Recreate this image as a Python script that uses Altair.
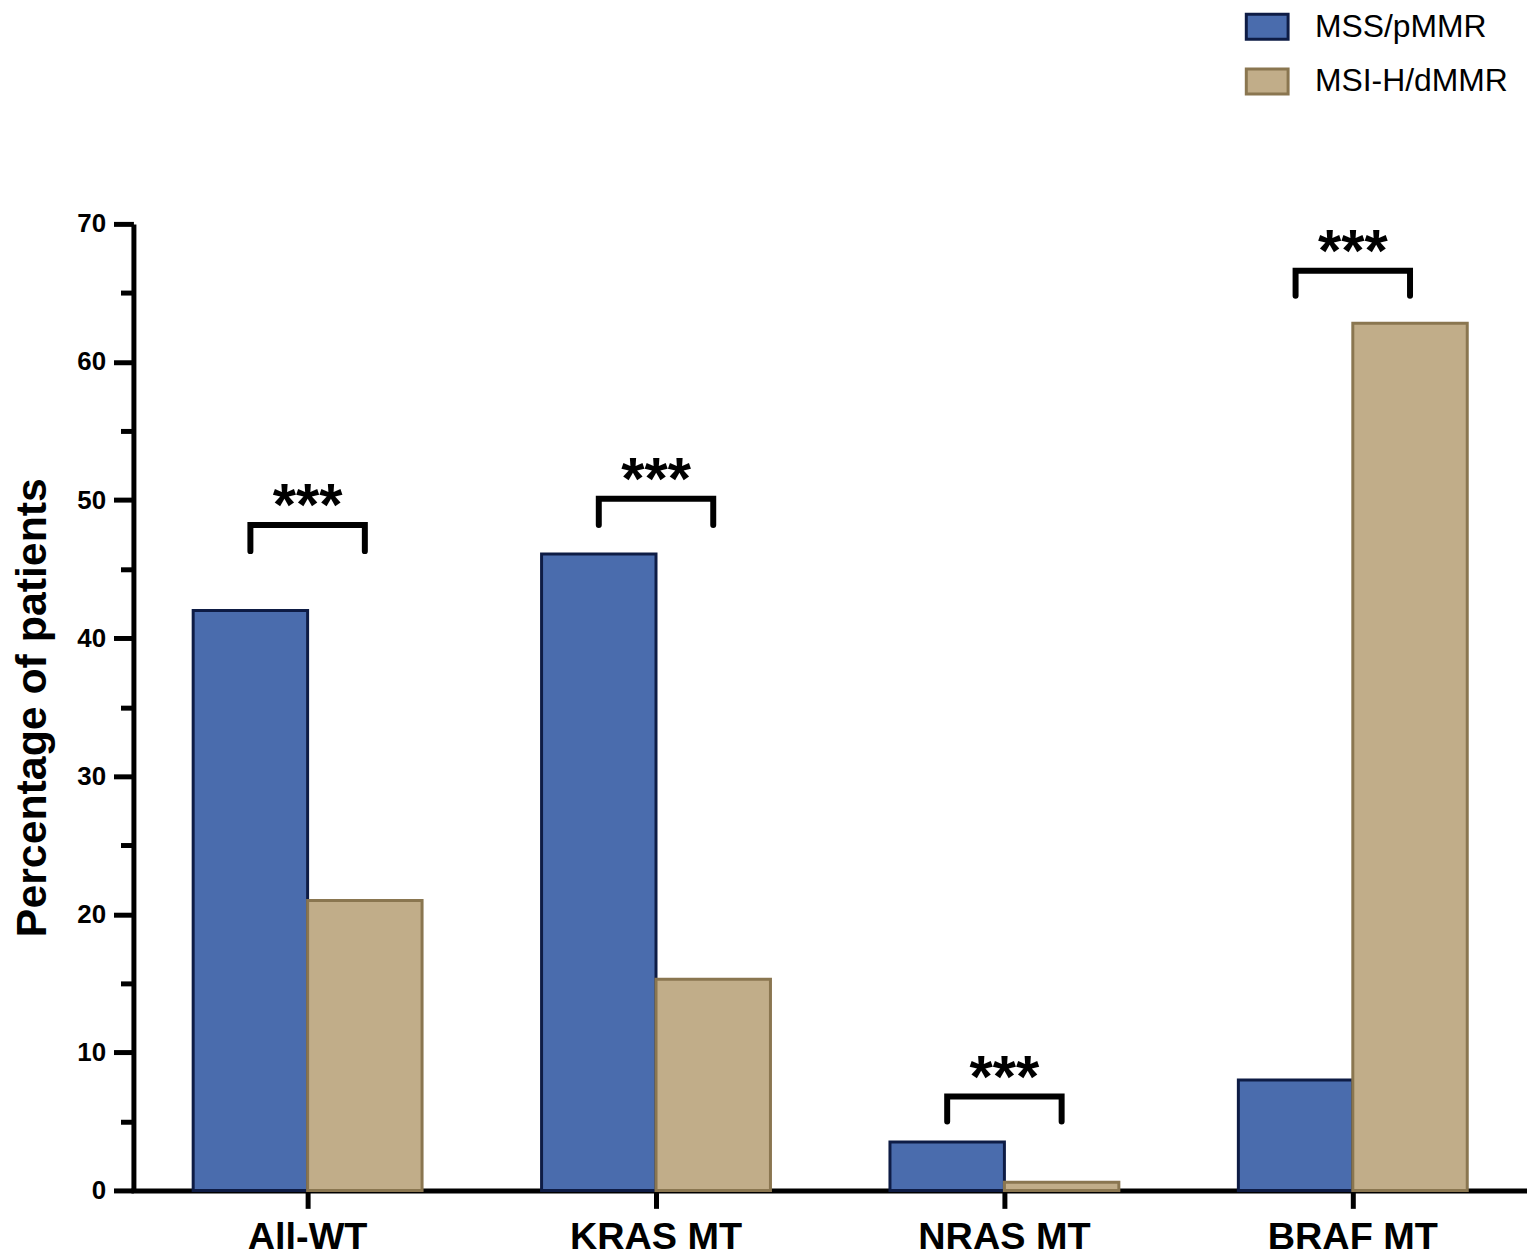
import altair as alt
import pandas as pd

categories = ["All-WT", "KRAS MT", "NRAS MT", "BRAF MT"]
groups = ["MSS/pMMR", "MSI-H/dMMR"]
mss_values = [42.0, 46.1, 3.5, 8.0]
msi_values = [21.0, 15.3, 0.6, 62.8]
bracket_top = [48.2, 50.1, 6.8, 66.6]
bracket_leg = [46.3, 48.2, 5.0, 64.8]
star_labels = ["***", "***", "***", "***"]
y_ticks = [0, 5, 10, 15, 20, 25, 30, 35, 40, 45, 50, 55, 60, 65, 70]
fill_colors = ["#4a6cad", "#c1ad89"]
stroke_colors = ["#0e1c45", "#8a7650"]

FONT = "Liberation Sans"

bar_rows = []
for c, a, b in zip(categories, mss_values, msi_values):
    bar_rows.append({"category": c, "group": groups[0], "pct": a})
    bar_rows.append({"category": c, "group": groups[1], "pct": b})
bar_df = pd.DataFrame(bar_rows)

br_rows = []
for c, t, l in zip(categories, bracket_top, bracket_leg):
    br_rows.append({"category": c, "group": groups[0], "val": l, "ord": 0})
    br_rows.append({"category": c, "group": groups[0], "val": t, "ord": 1})
    br_rows.append({"category": c, "group": groups[1], "val": t, "ord": 2})
    br_rows.append({"category": c, "group": groups[1], "val": l, "ord": 3})
br_df = pd.DataFrame(br_rows)

star_df = pd.DataFrame({"category": categories, "top": bracket_top, "label": star_labels})

legend_cfg = dict(
    title=None, orient="none", legendX=1123, legendY=-214,
    symbolType="M-1.68,-1H1.68V1H-1.68Z", symbolSize=625, symbolStrokeWidth=3,
    labelFont=FONT, labelFontSize=32, labelColor="black", labelOffset=32,
    rowPadding=17, padding=0, labelLimit=400,
)

x_enc = alt.X("category:N", sort=categories, title=None,
              scale=alt.Scale(paddingInner=0.343, paddingOuter=0.1715),
              axis=alt.Axis(labelAngle=0))
xoff_enc = alt.XOffset("group:N", sort=groups,
                       scale=alt.Scale(domain=groups, paddingInner=0, paddingOuter=0))

bars = alt.Chart(bar_df).mark_bar(strokeWidth=3).encode(
    x=x_enc,
    xOffset=xoff_enc,
    y=alt.Y("pct:Q", title="Percentage of patients",
            scale=alt.Scale(domain=[0, 70], nice=False),
            axis=alt.Axis(values=y_ticks,
                          labelExpr="datum.value % 10 === 0 ? datum.label : ''",
                          tickSize={"condition": {"test": "datum.value % 10 === 0", "value": 20}, "value": 13})),
    fill=alt.Fill("group:N", sort=groups, scale=alt.Scale(domain=groups, range=fill_colors),
                  legend=alt.Legend(**legend_cfg)),
    stroke=alt.Stroke("group:N", sort=groups, scale=alt.Scale(domain=groups, range=stroke_colors),
                      legend=alt.Legend(**legend_cfg)),
)

brackets = alt.Chart(br_df).mark_line(color="black", strokeWidth=6, strokeCap="round",
                                      strokeJoin="miter").encode(
    x=alt.X("category:N", sort=categories, title=None),
    xOffset=alt.XOffset("group:N", sort=groups),
    y=alt.Y("val:Q", title="Percentage of patients"),
    detail="category:N",
    order="ord:Q",
)

stars = alt.Chart(star_df).mark_text(font=FONT, fontSize=60, fontWeight="bold",
                                     baseline="alphabetic", dy=0, color="black").encode(
    x=alt.X("category:N", sort=categories, title=None),
    y=alt.Y("top:Q", title="Percentage of patients"),
    text="label:N",
)

chart = alt.layer(bars, brackets, stars).properties(
    width=1400, height=971,
    padding={"left": 4, "top": 0, "right": 0, "bottom": 0},
).configure_view(stroke=None).configure_axis(
    grid=False, domainColor="black", domainWidth=5, tickColor="black", tickWidth=5,
    labelFont=FONT, labelFontWeight="bold", labelColor="black",
    titleFont=FONT, titleFontWeight="bold", titleColor="black",
).configure_axisX(
    labelFontSize=38, tickSize=18, labelPadding=10, domainCap="square",
).configure_axisY(
    labelFontSize=26, labelPadding=8, titleFontSize=43, titlePadding=22,
)

chart.save("out.html", embed_options={"renderer": "svg", "actions": False})
